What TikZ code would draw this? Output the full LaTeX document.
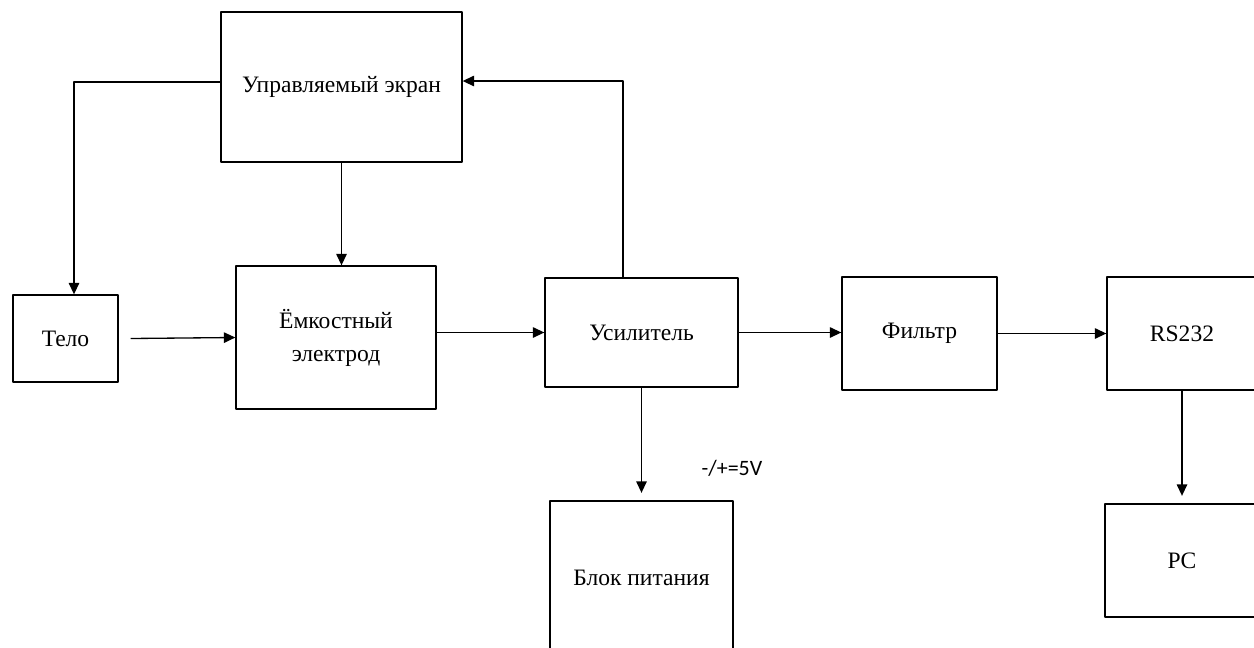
\documentclass[tikz,border=0pt]{standalone}
\usepackage{fontspec}
\setmainfont{Liberation Serif}
\newfontfamily\calfont{Carlito}
\usetikzlibrary{arrows.meta}

\begin{document}
\begin{tikzpicture}[x=0.2mm, y=-0.2mm, >={Triangle[length=2.3mm,width=2.1mm]}, line width=0.75pt, line join=round,
  font=\fontsize{13.4}{18.7}\selectfont,
  blk/.style 2 args={draw, inner sep=0pt, align=center, minimum width=#1*0.2mm, minimum height=#2*0.2mm}]
\def\W{1254} \def\H{647} % размер поля
\useasboundingbox (0,0) rectangle (\W,\H);
\clip (0,0) rectangle (\W,\H);
% блоки
\node[blk={241}{150}] (ekran) at (341.5,87) {Управляемый экран};
\node[blk={105}{87}] (telo) at (65.5,338.5) {Тело};
\node[blk={200}{143}] (elektrod) at (336,337.5) {Ёмкостный\\электрод};
\node[blk={193}{109}] (usilitel) at (641.5,332.5) {Усилитель};
\node[blk={155}{113}] (filtr) at (919.5,333.5) {Фильтр};
\node[blk={150}{113}] (rs) at (1182,333.5) {RS232};
\node[blk={183}{154}] (pitanie) at (641.5,578) {Блок питания};
\node[blk={154}{113}] (pc) at (1182,560.5) {PC};
\node[font=\calfont\fontsize{12.5}{15}\selectfont] (volt) at (732,468) {-/+=5V};
% связи
\coordinate (k1) at (74,82);
\coordinate (k2) at (623,81);
\draw[->] (ekran.west |- k1) -| (k1 |- telo.north);
\draw[->] (ekran.south) -- (ekran.south |- elektrod.north);
\draw[->] ([xshift=2.4mm]telo.east) -- (elektrod.west);
\draw[->] (elektrod.east |- usilitel.west) -- (usilitel.west);
\draw[->] (usilitel.east) -- (usilitel.east -| filtr.west);
\draw[->] (filtr.east) -- (rs.west);
\draw[->] (k2 |- usilitel.north) |- (ekran.east |- k2);
\draw[->, shorten >=1.5mm] (usilitel.south) -- (pitanie.north);
\draw[->, shorten >=1.5mm] (rs.south) -- (pc.north);
\end{tikzpicture}
\end{document}
